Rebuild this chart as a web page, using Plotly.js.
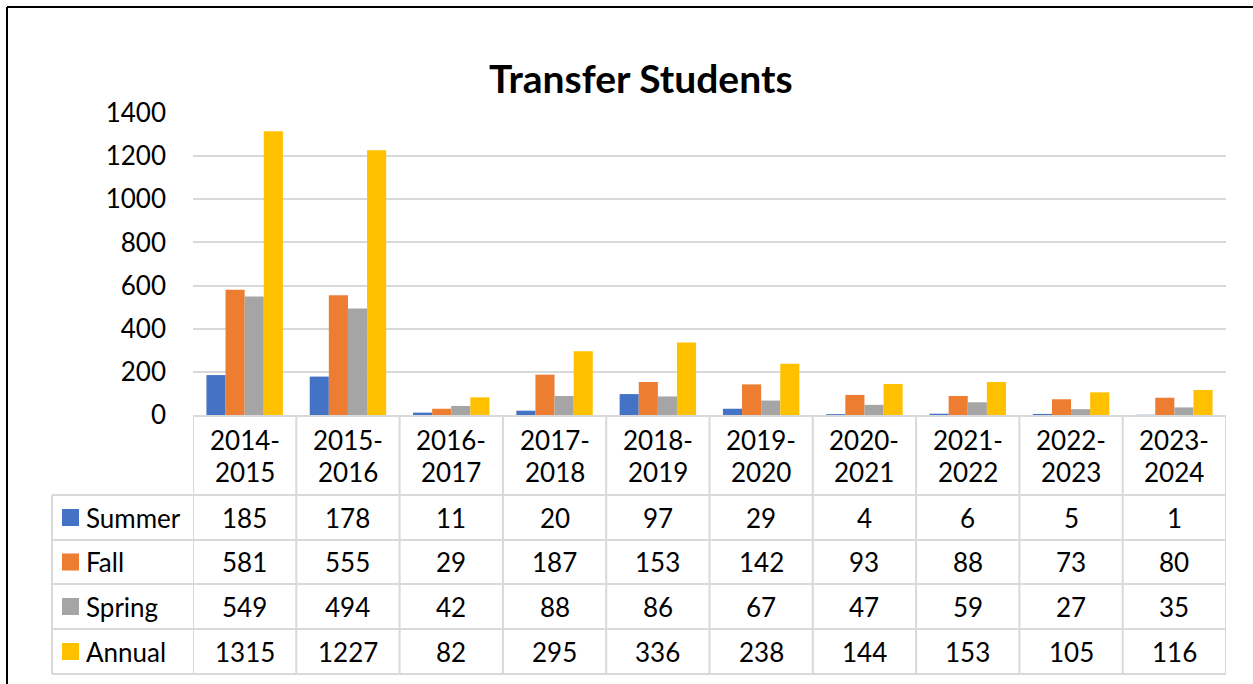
<!DOCTYPE html>
<html>
<head>
<meta charset="utf-8">
<script src="https://cdn.plot.ly/plotly-3.0.1.min.js"></script>
<style>
  html, body { margin: 0; padding: 0; background: #fff; }
  #chart { width: 1253px; height: 684px; }
</style>
</head>
<body>
<div id="chart"></div>
<script>
// ---- data ----
const categories = ["2014-2015","2015-2016","2016-2017","2017-2018","2018-2019","2019-2020","2020-2021","2021-2022","2022-2023","2023-2024"];
const seriesNames = ["Summer","Fall","Spring","Annual"];
const summer = [185,178,11,20,97,29,4,6,5,1];
const fall   = [581,555,29,187,153,142,93,88,73,80];
const spring = [549,494,42,88,86,67,47,59,27,35];
const annual = [1315,1227,82,295,336,238,144,153,105,116];
const yTicks = [0,200,400,600,800,1000,1200,1400];

// ---- style ----
const colors = ["#4472C4","#ED7D31","#A5A5A5","#FFC000"];
const FONT = "Lato, 'Liberation Sans', sans-serif";
const FS = 26;
const W = 1253, H = 684;
const L = 193, R = 1226, T = 113, B = 415;
const gridColor = "#d9d9d9";

const values = [summer, fall, spring, annual];
const xIdx = categories.map((c, i) => i);

const traces = seriesNames.map((name, s) => ({
  type: "bar",
  name: name,
  x: xIdx,
  y: values[s],
  marker: { color: colors[s] },
  hoverinfo: "x+y+name"
}));

const px2x = px => (px - L) / (R - L);
const py2y = py => (B - py) / (B - T);

const shapes = [];
const annotations = [];

// outer frame (left & top black lines)
shapes.push({ type: "line", xref: "paper", yref: "paper", x0: px2x(7), x1: px2x(W + 5), y0: py2y(7), y1: py2y(7), line: { color: "#000", width: 2 } });
shapes.push({ type: "line", xref: "paper", yref: "paper", x0: px2x(7), x1: px2x(7), y0: py2y(7), y1: py2y(H + 5), line: { color: "#000", width: 2 } });

// table rows
const rowLines = [495, 540, 584, 629, 674];
const leftEdge = 52;

// vertical column lines (category boundaries)
for (let k = 0; k <= categories.length; k++) {
  shapes.push({ type: "line", xref: "x", yref: "paper", x0: k - 0.5, x1: k - 0.5, y0: py2y(B), y1: py2y(rowLines[rowLines.length - 1]), line: { color: gridColor, width: 2 } });
}
// left vertical line
shapes.push({ type: "line", xref: "paper", yref: "paper", x0: px2x(leftEdge), x1: px2x(leftEdge), y0: py2y(rowLines[0]), y1: py2y(rowLines[rowLines.length - 1]), line: { color: gridColor, width: 2 } });
// horizontal row lines
rowLines.forEach(py => {
  shapes.push({ type: "line", xref: "paper", yref: "paper", x0: px2x(leftEdge), x1: px2x(R), y0: py2y(py), y1: py2y(py), line: { color: gridColor, width: 2 } });
});

// header labels (two lines)
categories.forEach((c, i) => {
  const parts = c.split("-");
  annotations.push({ xref: "x", yref: "paper", x: i, y: py2y(440), text: parts[0] + "-", showarrow: false, xanchor: "center", yanchor: "middle", font: { family: FONT, size: FS, color: "#000" } });
  annotations.push({ xref: "x", yref: "paper", x: i, y: py2y(472), text: parts[1], showarrow: false, xanchor: "center", yanchor: "middle", font: { family: FONT, size: FS, color: "#000" } });
});

// data rows
seriesNames.forEach((name, s) => {
  const cy = (rowLines[s] + rowLines[s + 1]) / 2;
  // legend key
  shapes.push({ type: "rect", xref: "paper", yref: "paper", x0: px2x(62), x1: px2x(79), y0: py2y(cy - 8.5), y1: py2y(cy + 8.5), fillcolor: colors[s], line: { width: 0 } });
  annotations.push({ xref: "paper", yref: "paper", x: px2x(84), y: py2y(cy), text: name, showarrow: false, xanchor: "left", yanchor: "middle", font: { family: FONT, size: FS, color: "#000" } });
  values[s].forEach((v, i) => {
    annotations.push({ xref: "x", yref: "paper", x: i, y: py2y(cy), text: String(v), showarrow: false, xanchor: "center", yanchor: "middle", font: { family: FONT, size: FS, color: "#000" } });
  });
});

// title
annotations.push({ xref: "paper", yref: "paper", x: px2x(641), y: py2y(78), text: "<b>Transfer Students</b>", showarrow: false, xanchor: "center", yanchor: "middle", font: { family: FONT, size: 39, color: "#000" } });

const layout = {
  width: W, height: H,
  margin: { l: L, r: W - R, t: T, b: H - B, pad: 0 },
  paper_bgcolor: "#fff",
  plot_bgcolor: "#fff",
  showlegend: false,
  barmode: "group",
  bargap: 0.26,
  bargroupgap: 0,
  font: { family: FONT, size: FS, color: "#000" },
  xaxis: {
    type: "linear",
    range: [-0.5, categories.length - 0.5],
    showticklabels: false,
    showgrid: false,
    zeroline: false,
    showline: true,
    linecolor: gridColor,
    linewidth: 2,
    ticks: "",
    fixedrange: true
  },
  yaxis: {
    range: [0, 1400],
    tickvals: yTicks,
    ticktext: yTicks.map(String),
    showgrid: true,
    gridcolor: gridColor,
    gridwidth: 2,
    zeroline: false,
    showline: false,
    ticks: "",
    ticklabelstandoff: 26,
    tickfont: { family: FONT, size: FS, color: "#000" },
    fixedrange: true
  },
  shapes: shapes,
  annotations: annotations
};

Plotly.newPlot("chart", traces, layout, { displayModeBar: false, staticPlot: true });
</script>
</body>
</html>
